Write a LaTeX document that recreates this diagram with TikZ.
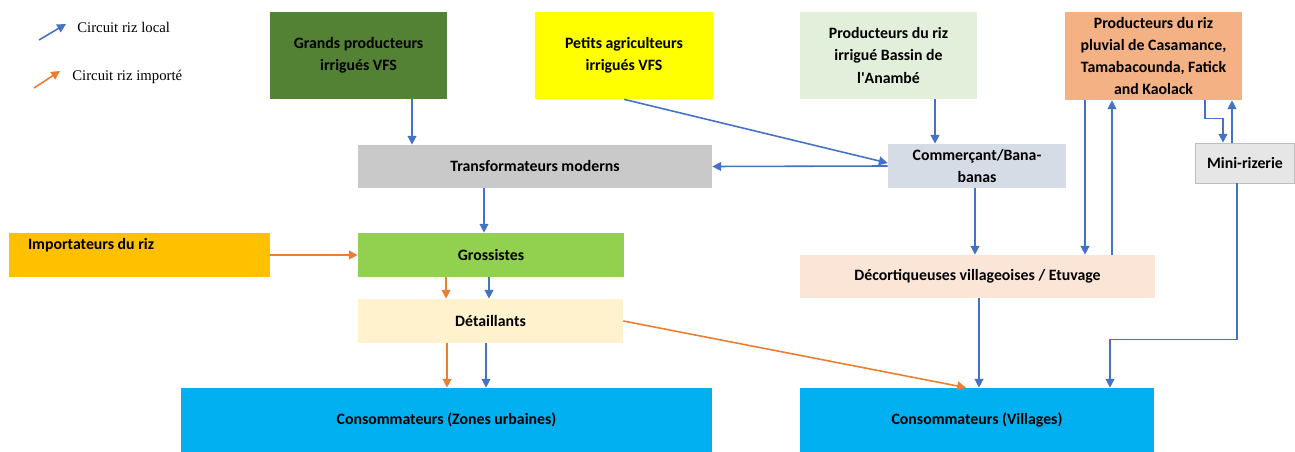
\documentclass[tikz,border=0pt]{standalone}
\usepackage{fontspec}
\setmainfont{Carlito}
\newfontfamily\legendfont{Liberation Serif}
\usepackage{tikz}
\usetikzlibrary{arrows.meta}

\definecolor{gpcol}{HTML}{548235}
\definecolor{pacol}{HTML}{FFFF00}
\definecolor{pbcol}{HTML}{E2EFDA}
\definecolor{ppcol}{HTML}{F4B183}
\definecolor{tmcol}{HTML}{C9C9C9}
\definecolor{cbcol}{HTML}{D6DCE5}
\definecolor{mrcol}{HTML}{E7E6E6}
\definecolor{impcol}{HTML}{FFC000}
\definecolor{grcol}{HTML}{92D050}
\definecolor{dtcol}{HTML}{FFF2CC}
\definecolor{dvcol}{HTML}{FBE5D6}
\definecolor{conscol}{HTML}{00B0F0}
\definecolor{bluearrow}{HTML}{4472C4}
\definecolor{orangearrow}{HTML}{ED7D31}

\begin{document}
\begin{tikzpicture}[x=0.02cm, y=-0.02cm,
    box/.style={rectangle, inner sep=0pt, align=center, font=\fontsize{9}{12.7}\selectfont\bfseries},
    legend/.style={inner sep=0pt, font=\legendfont\fontsize{8.4}{10}\selectfont},
    rizlocal/.style={draw=bluearrow, line width=0.9pt, -{Triangle[length=5pt,width=5pt]}},
    rizimporte/.style={draw=orangearrow, line width=0.9pt, -{Triangle[length=5pt,width=5pt]}}]
    \useasboundingbox (0,0) rectangle (1295,452);

    % Legend
    \coordinate (l1a) at (39,40);
    \coordinate (l1b) at (66,24);
    \coordinate (l2a) at (34,88);
    \coordinate (l2b) at (60,71);
    \draw[rizlocal] (l1a) -- (l1b);
    \node[legend, anchor=west] (leglocal) at (77,27) {Circuit riz local};
    \draw[rizimporte] (l2a) -- (l2b);
    \node[legend, anchor=west] (legimport) at (72,77) {Circuit riz importé};

    % Producers (top row)
    \node[box, fill=gpcol, minimum width=3.54cm, minimum height=1.74cm] (gp) at (358.5,55.5) {Grands producteurs\\irrigués VFS};
    \node[box, fill=pacol, minimum width=3.56cm, minimum height=1.74cm] (pa) at (624,55.5) {Petits agriculteurs\\irrigués VFS};
    \node[box, fill=pbcol, minimum width=3.54cm, minimum height=1.74cm] (pb) at (888.5,55.5) {Producteurs du riz\\irrigué Bassin de\\l\textquotesingle Anambé};
    \node[box, fill=ppcol, minimum width=3.54cm, minimum height=1.76cm] (pp) at (1153.5,56) {Producteurs du riz\\pluvial de Casamance,\\Tamabacounda, Fatick\\and Kaolack};

    % Processing and trade
    \node[box, fill=tmcol, minimum width=7.08cm, minimum height=0.86cm] (tm) at (535,166.5) {Transformateurs moderns};
    \node[box, fill=cbcol, minimum width=3.56cm, minimum height=0.88cm] (cb) at (977,166) {Commerçant/Bana-\\banas};
    \node[box, fill=mrcol, draw=black!25, minimum width=1.98cm, minimum height=0.80cm] (mr) at (1245,163) {Mini-rizerie};
    \node[box, fill=impcol, minimum width=5.22cm, minimum height=0.88cm,
        label={[box, anchor=north west, xshift=0.38cm, yshift=-0.1cm]north west:Importateurs du riz}] (imp) at (139.5,255) {};
    \node[box, fill=grcol, minimum width=5.32cm, minimum height=0.88cm] (gr) at (491,255) {Grossistes};
    \node[box, fill=dtcol, minimum width=5.30cm, minimum height=0.88cm] (dt) at (490.5,321) {Détaillants};
    \node[box, fill=dvcol, minimum width=7.10cm, minimum height=0.86cm] (dv) at (977.5,276.5) {Décortiqueuses villageoises / Etuvage};

    % Consumers
    \node[box, fill=conscol, minimum width=10.62cm, minimum height=1.28cm] (cu) at (446.5,420) {Consommateurs (Zones urbaines)};
    \node[box, fill=conscol, minimum width=7.08cm, minimum height=1.28cm] (cv) at (977,420) {Consommateurs (Villages)};

    % Local rice circuit
    \draw[rizlocal] (gp.south -| 412,0) -- (tm.north -| 412,0);
    \draw[rizlocal] (pa.south) -- ([yshift=0.06cm]cb.west);
    \draw[rizlocal] (pb.south -| 935,0) -- (cb.north -| 935,0);
    \draw[rizlocal] (cb.west) -- (tm.east);
    \draw[rizlocal] (tm.south -| 484,0) -- (gr.north -| 484,0);
    \draw[rizlocal] (gr.south -| 489,0) -- (dt.north -| 489,0);
    \draw[rizlocal] (dt.south -| 486,0) -- (cu.north -| 486,0);
    \draw[rizlocal] (cb.south -| 975,0) -- (dv.north -| 975,0);
    \draw[rizlocal] (pp.south -| 1085,0) -- (dv.north -| 1085,0);
    \draw[rizlocal] (dv.north -| 1112,0) -- (pp.south -| 1112,0);
    \draw[rizlocal] (pp.south -| 1205,0) -- ++(0,18) -| (mr.north -| 1223,0);
    \draw[rizlocal] (mr.north -| 1232,0) -- (pp.south -| 1232,0);
    \draw[rizlocal] (dv.south -| 979,0) -- (cv.north -| 979,0);
    \draw[rizlocal] (mr.south -| 1237,0) -- ++(0,156) -| (cv.north -| 1110,0);

    % Imported rice circuit
    \draw[rizimporte] (imp.east) -- (gr.west);
    \draw[rizimporte] (gr.south -| 446,0) -- (dt.north -| 446,0);
    \draw[rizimporte] (dt.south -| 447,0) -- (cu.north -| 447,0);
    \draw[rizimporte] (dt.east) -- (cv.north -| 966,0);
\end{tikzpicture}
\end{document}
